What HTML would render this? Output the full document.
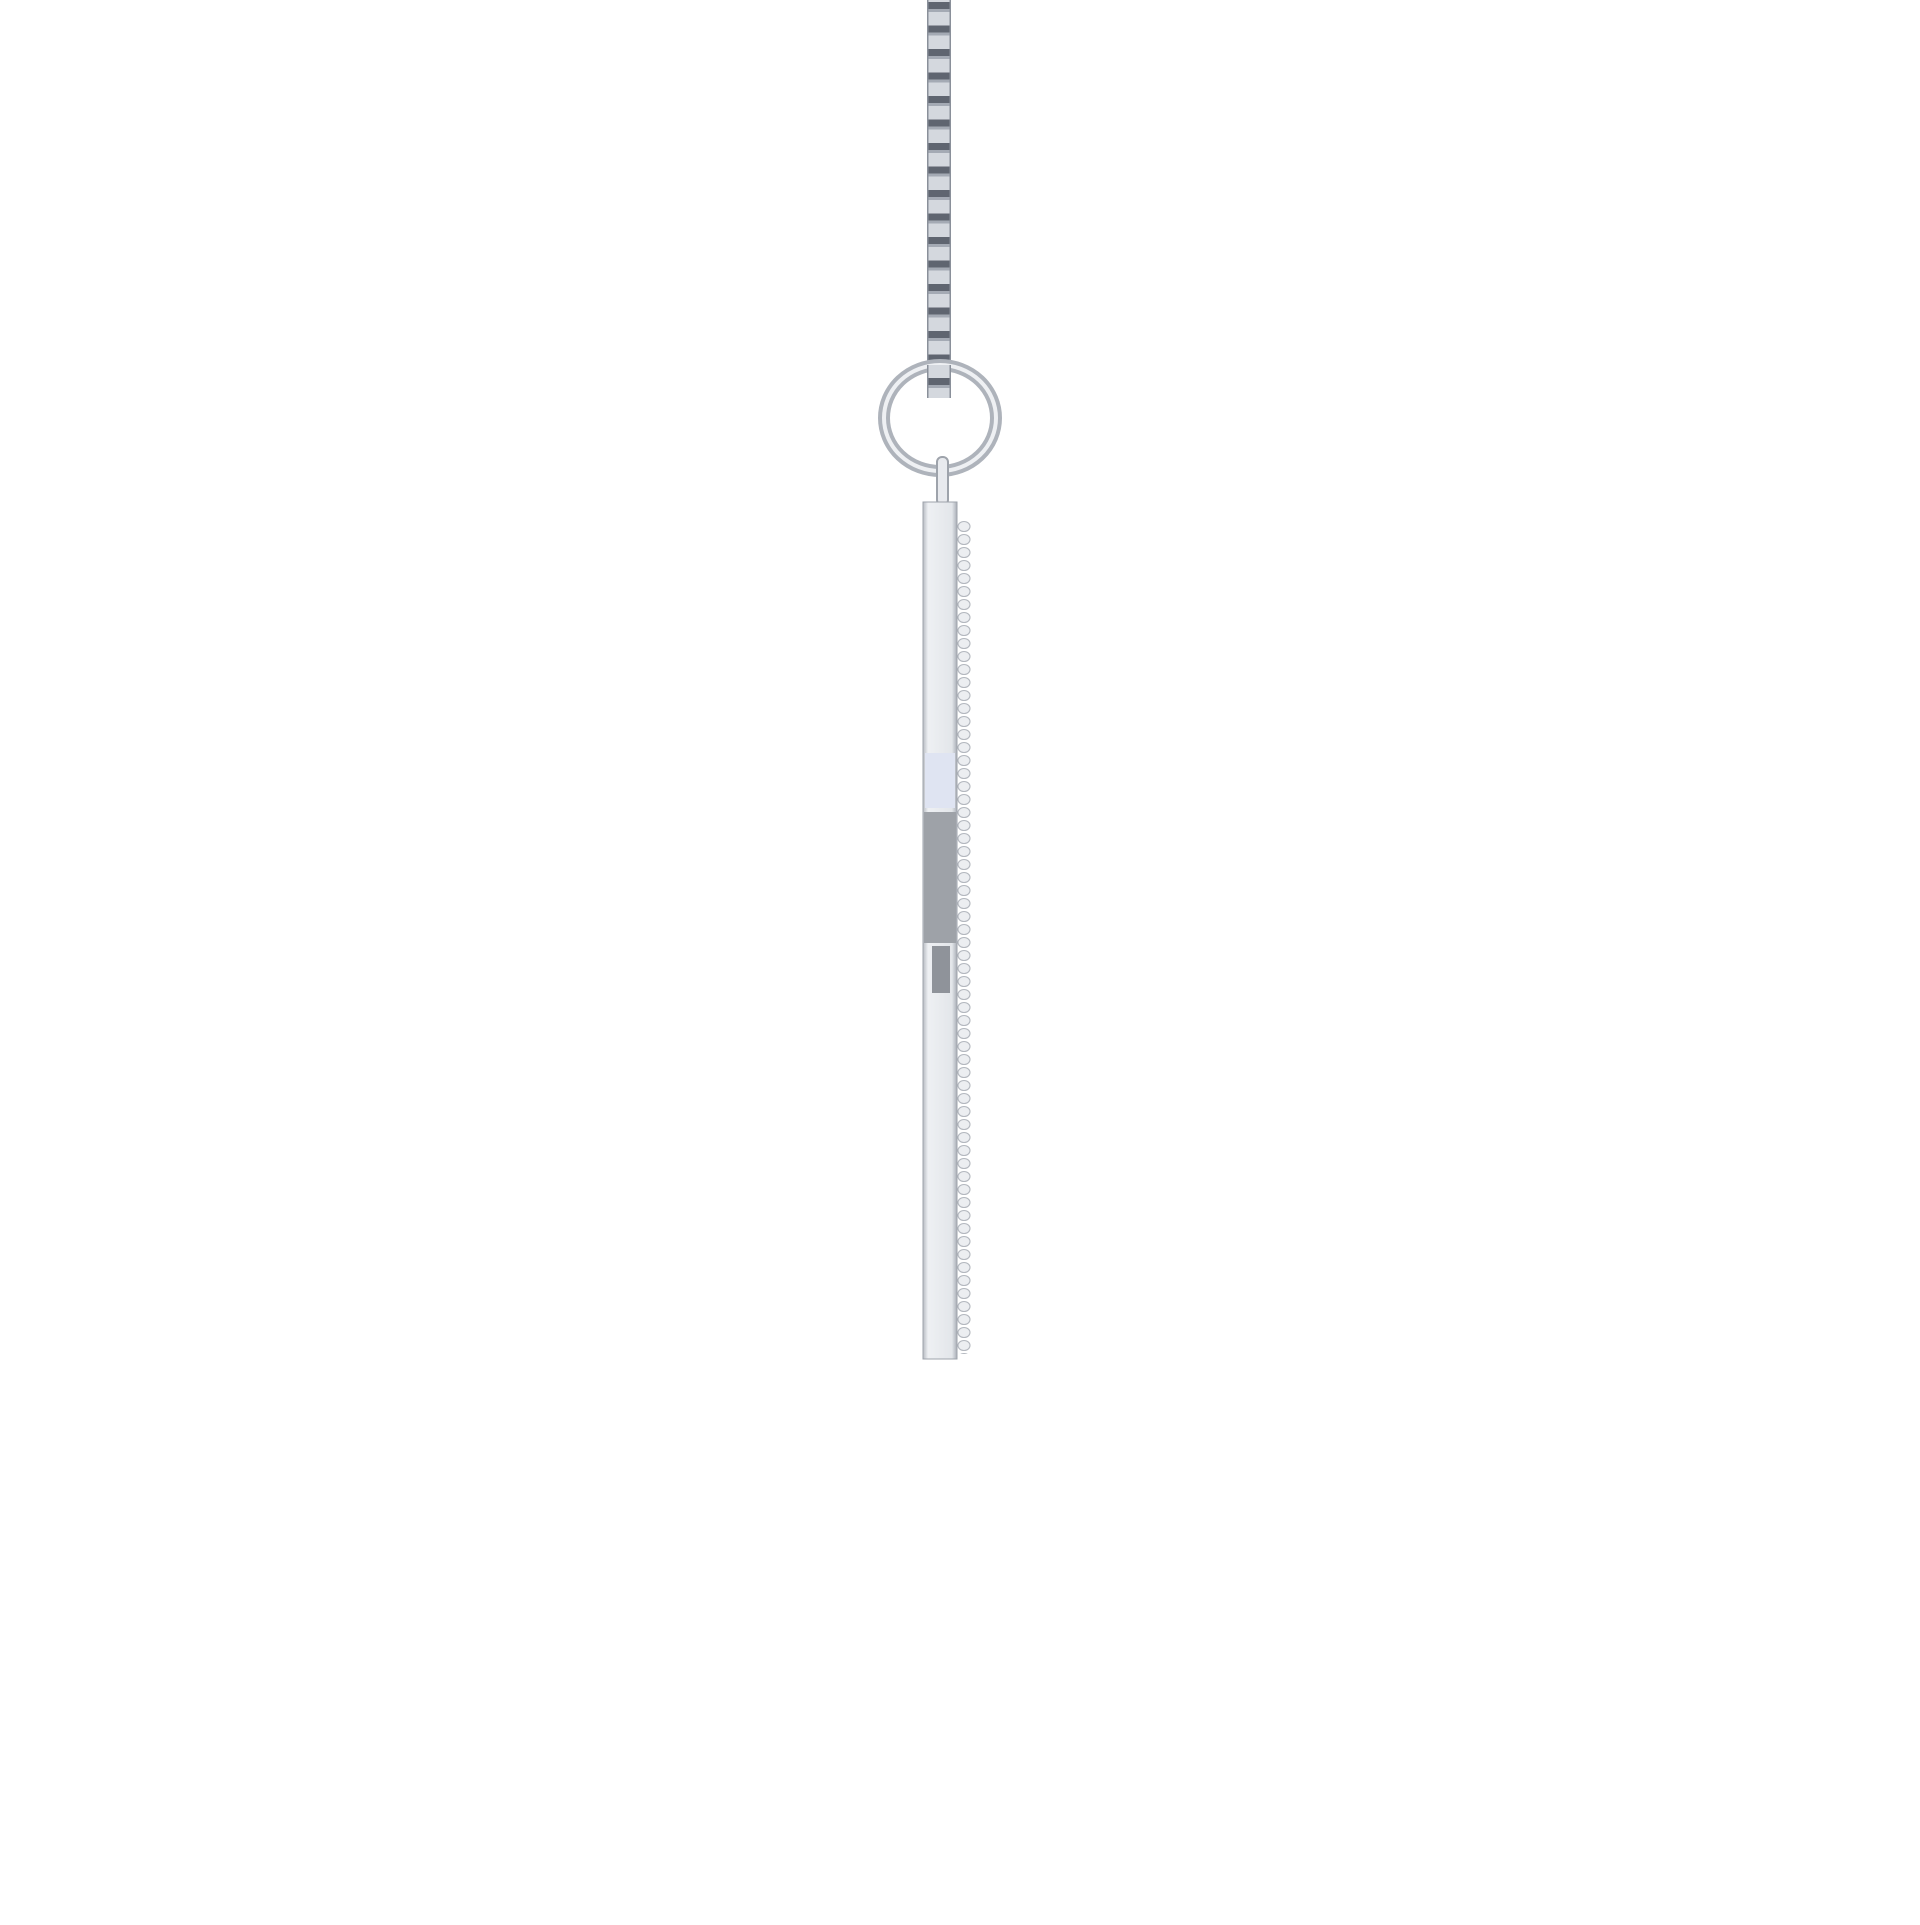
<!DOCTYPE html>
<html><head><style>body{margin:0;background:#fff}</style></head><body>
<svg width="1920" height="1920" xmlns="http://www.w3.org/2000/svg">
<defs>
<pattern id="ch" x="927" y="0" width="24" height="23.5" patternUnits="userSpaceOnUse">
<rect width="24" height="23.5" fill="#d4d8de"/>
<rect y="2" width="24" height="7" fill="#5f6570"/>
<rect y="9" width="24" height="3" fill="#a4aab4"/>
<rect x="0" width="1.5" height="23.5" fill="#8a909a"/>
<rect x="22.5" width="1.5" height="23.5" fill="#8a909a"/>
</pattern>
<pattern id="st" x="957" y="0" width="15" height="13" patternUnits="userSpaceOnUse">
<rect width="15" height="13" fill="#fff"/>
<ellipse cx="7" cy="6.5" rx="6" ry="5" fill="#eceef1" stroke="#b4b8bf" stroke-width="1.1"/>
</pattern>
<linearGradient id="bar" x1="0" x2="1"><stop offset="0" stop-color="#b8bcc3"/><stop offset="0.15" stop-color="#eef0f3"/><stop offset="0.85" stop-color="#e3e6ea"/><stop offset="1" stop-color="#a9aeb6"/></linearGradient>
</defs>
<rect x="927" y="0" width="24" height="398" fill="url(#ch)"/>
<ellipse cx="940" cy="418" rx="56" ry="53" fill="none" stroke="#aeb3bb" stroke-width="12"/>
<ellipse cx="940" cy="418" rx="56" ry="53" fill="none" stroke="#eef0f3" stroke-width="4"/>
<rect x="927" y="365" width="24" height="33" fill="url(#ch)"/>
<rect x="937" y="457" width="11" height="48" rx="5" fill="#e8eaee" stroke="#9ea3ab" stroke-width="2"/>
<rect x="957" y="520" width="15" height="834" fill="url(#st)"/>
<rect x="923" y="502" width="34" height="857" fill="url(#bar)" stroke="#9ea3ab" stroke-width="1"/>
<rect x="925" y="753" width="30" height="55" fill="#dfe4f2"/>
<rect x="924" y="812" width="32" height="131" fill="#9ea2a8"/>
<rect x="932" y="946" width="18" height="47" fill="#8f939a"/>
</svg>
</body></html>
